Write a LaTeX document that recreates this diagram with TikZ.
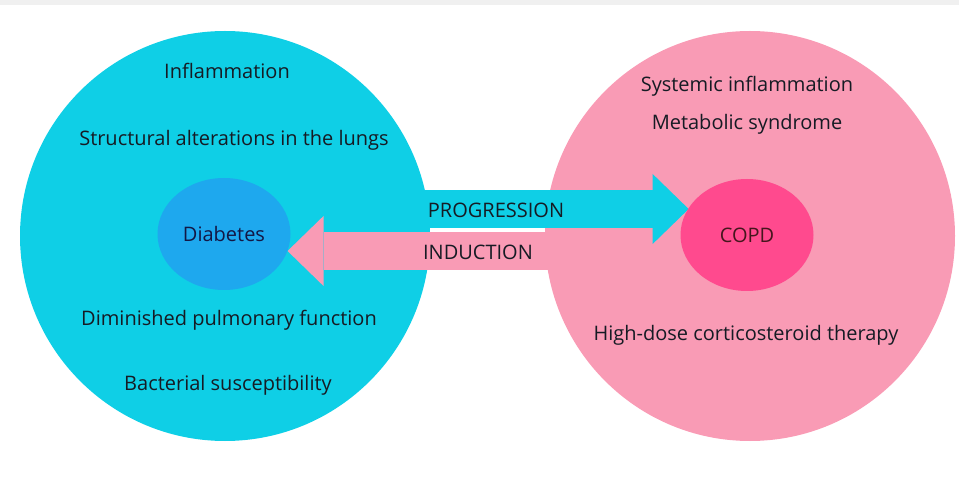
\documentclass[tikz,border=0pt]{standalone}
\usepackage{fontspec}
\setmainfont{Open Sans}
\usetikzlibrary{arrows.meta,shapes.geometric}

\definecolor{cyanbg}{HTML}{0FCFE6}
\definecolor{pinkbg}{HTML}{F99BB5}
\definecolor{diabblue}{HTML}{1EA8EE}
\definecolor{copdpink}{HTML}{FF4A8E}
\definecolor{txt}{HTML}{161B24}

\begin{document}
\begin{tikzpicture}[x=1pt,y=-1pt,
  lbl/.style={font=\fontsize{20}{24}\selectfont,text=txt,inner sep=0pt},
  blob/.style={circle,minimum size=410pt,inner sep=0pt},
  core/.style={ellipse,minimum width=133pt,minimum height=112pt,inner sep=0pt},
  bigarrow/.style={line width=\shaft pt,-{Triangle[length=36pt,width=70pt,line width=0pt]}}]
  \pgfmathsetmacro\shaft{38}
  \pgfmathsetmacro\yprog{209}   % height of upper arrow
  \pgfmathsetmacro\yind{251}    % height of lower arrow

  \useasboundingbox (0,0) rectangle (959,478);
  \fill[black!6] (0,0) rectangle (959,5);

% the two big circles
  \node[blob,fill=cyanbg] (leftc) at (225,236) {};
  \node[blob,fill=pinkbg] (rightc) at (750,236) {};

% arrows between them
  \coordinate (progstart) at (400,\yprog);
  \coordinate (indstart) at (580,\yind);
  \path (747,235) node[core] (copdspot) {};
  \path (224,234) node[core] (diabspot) {};
  \draw[bigarrow,cyanbg] (progstart) -- (progstart -| copdspot.155);
  \draw[bigarrow,pinkbg] (indstart) -- (indstart -| diabspot.345);
  \node[lbl] (prog) at (496,210) {PROGRESSION};
  \node[lbl] (ind) at (478,252) {INDUCTION};

% centres
  \node[core,fill=diabblue,font=\fontsize{20}{24}\selectfont,text=txt!85!blue] (diab) at (224,234) {Diabetes};
  \node[core,fill=copdpink,font=\fontsize{20}{24}\selectfont,text=txt!80!red] (copd) at (747,235) {COPD};

% factors, left side
  \node[lbl] (infl) at (227,71) {Inflammation};
  \node[lbl] (struct) at (234,140) {Structural alterations in the lungs};
  \node[lbl] (dimin) at (229,320) {Diminished pulmonary function};
  \node[lbl] (bact) at (228,385) {Bacterial susceptibility};

% factors, right side
  \node[lbl] (syst) at (747,86) {Systemic inflammation};
  \node[lbl] (metab) at (747,124) {Metabolic syndrome};
  \node[lbl] (ster) at (746,335) {High-dose corticosteroid therapy};
\end{tikzpicture}
\end{document}
